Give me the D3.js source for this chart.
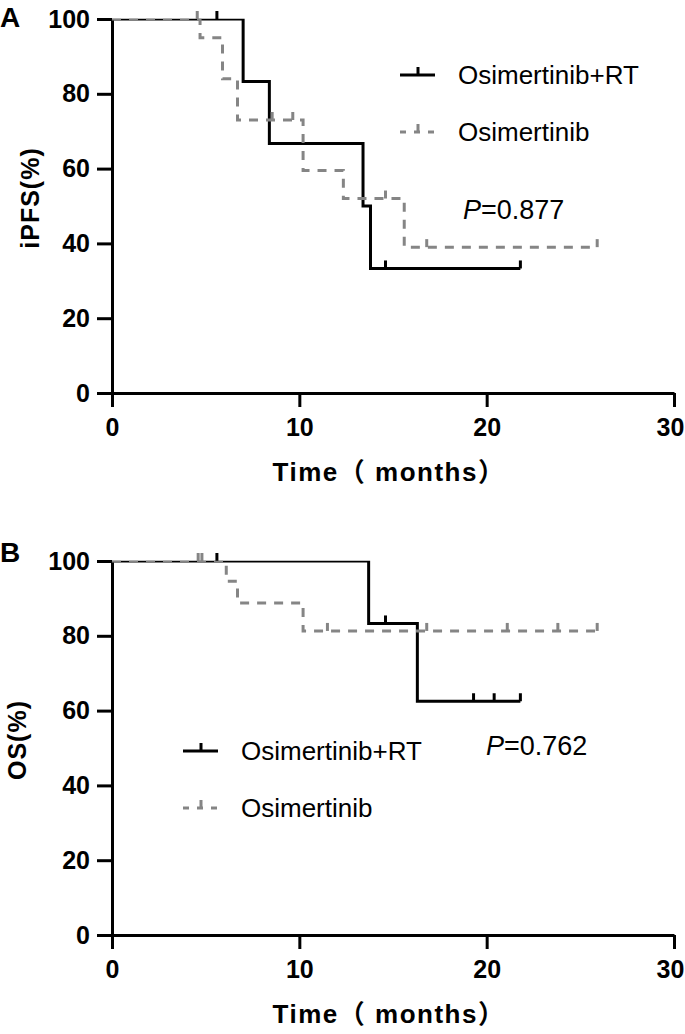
<!DOCTYPE html>
<html>
<head>
<meta charset="utf-8">
<script src="https://cdn.jsdelivr.net/npm/d3@7"></script>
<style>
  html, body { margin: 0; padding: 0; background: #fff; }
  svg { display: block; }
  text { font-family: "Liberation Sans", Arial, "Noto Sans CJK SC", sans-serif; }
</style>
</head>
<body>
<script>
// ---------- data ----------
const timeTicks = [0, 10, 20, 30];
const pctTicks = [0, 20, 40, 60, 80, 100];
const groupNames = ["Osimertinib+RT", "Osimertinib"];

// Panel A: iPFS
const rtA_times = [0, 7.0, 8.4, 13.4, 13.8, 21.8];
const rtA_surv  = [100, 83.3, 66.7, 50, 33.3, 33.3];
const rtA_censor = [5.6, 14.6, 21.8];
const osiA_times = [0, 4.7, 5.9, 6.7, 10.2, 12.35, 15.6, 25.9];
const osiA_surv  = [100, 95, 84, 73, 59.5, 52, 39, 39];
const osiA_censor = [4.55, 8.55, 9.65, 14.6, 16.8, 25.9];
const pA = "0.877";

// Panel B: OS
const rtB_times = [0, 13.7, 16.3, 21.8];
const rtB_surv  = [100, 83.3, 62.5, 62.5];
const rtB_censor = [5.6, 14.6, 19.3, 20.4, 21.8];
const osiB_times = [0, 6.1, 6.7, 10.2, 25.9];
const osiB_surv  = [100, 94.6, 88.8, 81.3, 81.3];
const osiB_censor = [4.6, 4.8, 11.5, 16.8, 21.1, 23.8, 25.9];
const pB = "0.762";

// ---------- drawing ----------
const W = 685, H = 1034;
const svg = d3.select("body").append("svg").attr("width", W).attr("height", H);
svg.append("rect").attr("width", W).attr("height", H).attr("fill", "#fff");

const GRAY = "#858585";

function survAt(times, surv, t) {
  let v = surv[0];
  for (let i = 0; i < times.length; i++) if (times[i] <= t) v = surv[i];
  return v;
}

function panel(cfg) {
  const x = d3.scaleLinear().domain([0, 30]).range([112, 674]);
  const y = d3.scaleLinear().domain([0, 100]).range([cfg.y0, cfg.y0 - 374]);
  const g = svg.append("g");
  const clipId = "clip" + cfg.letter;
  svg.append("clipPath").attr("id", clipId).append("rect")
    .attr("x", 112).attr("y", y(100) - 0.2).attr("width", 600).attr("height", 380);

  // y axis
  const ya = g.append("g").attr("transform", `translate(${x(0)},0)`)
    .call(d3.axisLeft(y).tickValues(pctTicks).tickSize(15).tickSizeOuter(0).tickPadding(7));
  // x axis
  const xa = g.append("g").attr("transform", `translate(0,${y(0)})`)
    .call(d3.axisBottom(x).tickValues(timeTicks).tickSize(14).tickSizeOuter(0).tickPadding(11));
  [ya, xa].forEach(a => {
    a.select(".domain").attr("stroke", "#000").attr("stroke-width", 3);
    a.selectAll(".tick line").attr("stroke", "#000").attr("stroke-width", 3);
    a.selectAll(".tick text").attr("fill", "#000")
      .style("font-family", "'Liberation Sans', Arial, sans-serif")
      .style("font-size", "25px").style("font-weight", "bold");
  });
  xa.selectAll(".tick text").filter(d => d === 30).attr("dx", -4);

  // axis titles
  g.append("text")
    .attr("transform", `translate(${cfg.ytx},${(y(0) + y(100)) / 2 - 8}) rotate(-90)`)
    .attr("text-anchor", "middle").attr("dominant-baseline", "central")
    .style("font-size", "25px").style("font-weight", "bold").style("letter-spacing", "1px")
    .text(cfg.ytitle);
  g.append("text")
    .attr("x", (x(0) + x(30)) / 2 - 4).attr("y", y(0) + 88)
    .attr("text-anchor", "middle")
    .style("font-size", "26px").style("font-weight", "bold").style("letter-spacing", "1.5px")
    .text("Time\uFF08 months\uFF09");

  // panel letter
  g.append("text").attr("x", 0).attr("y", cfg.letterY)
    .style("font-size", "28px").style("font-weight", "bold").text(cfg.letter);

  const line = d3.line().curve(d3.curveStepAfter).x(d => x(d[0])).y(d => y(d[1]));

  const series = [
    { times: cfg.osiT, surv: cfg.osiS, cens: cfg.osiC, color: GRAY, dash: "9,8" },
    { times: cfg.rtT, surv: cfg.rtS, cens: cfg.rtC, color: "#000", dash: null }
  ];
  const order = [series[1], series[0]];
  order.forEach(s => {
    const pts = s.times.map((t, i) => [t, s.surv[i]]);
    g.append("path").datum(pts).attr("d", line)
      .attr("fill", "none").attr("stroke", s.color).attr("stroke-width", 3)
      .attr("stroke-dasharray", s.dash).attr("clip-path", `url(#${clipId})`);
    g.selectAll(null).data(s.cens).enter().append("line")
      .attr("x1", t => x(t)).attr("x2", t => x(t))
      .attr("y1", t => y(survAt(s.times, s.surv, t)))
      .attr("y2", t => y(survAt(s.times, s.surv, t)) - 8)
      .attr("stroke", s.color).attr("stroke-width", 3);
  });

  // legend
  const lg = g.append("g");
  const rows = [
    { name: groupNames[0], color: "#000", dash: null },
    { name: groupNames[1], color: GRAY, dash: "9,8" }
  ];
  rows.forEach((r, i) => {
    const ly = cfg.legY + i * 57;
    lg.append("line").attr("x1", cfg.legX).attr("x2", cfg.legX + 35)
      .attr("y1", ly).attr("y2", ly)
      .attr("stroke", r.color).attr("stroke-width", 3).attr("stroke-dasharray", r.dash ? "6,8" : null);
    lg.append("line").attr("x1", cfg.legX + 18).attr("x2", cfg.legX + 18)
      .attr("y1", ly).attr("y2", ly - 8)
      .attr("stroke", r.color).attr("stroke-width", 3);
    lg.append("text").attr("x", cfg.legX + 58).attr("y", ly)
      .attr("dominant-baseline", "central")
      .style("font-size", "26px").text(r.name);
  });

  // p value
  const pt = g.append("text").attr("x", cfg.pX).attr("y", cfg.pY)
    .style("font-size", "27px");
  pt.append("tspan").style("font-style", "italic").text("P");
  pt.append("tspan").text("=" + cfg.p);
}

panel({
  letter: "A", letterY: 27, y0: 393, ytitle: "iPFS(%)", ytx: 30,
  rtT: rtA_times, rtS: rtA_surv, rtC: rtA_censor,
  osiT: osiA_times, osiS: osiA_surv, osiC: osiA_censor,
  legX: 400, legY: 75, pX: 463, pY: 219, p: pA
});
panel({
  letter: "B", letterY: 562, y0: 935, ytitle: "OS(%)", ytx: 17,
  rtT: rtB_times, rtS: rtB_surv, rtC: rtB_censor,
  osiT: osiB_times, osiS: osiB_surv, osiC: osiB_censor,
  legX: 183, legY: 751, pX: 486, pY: 755, p: pB
});
</script>
</body>
</html>
